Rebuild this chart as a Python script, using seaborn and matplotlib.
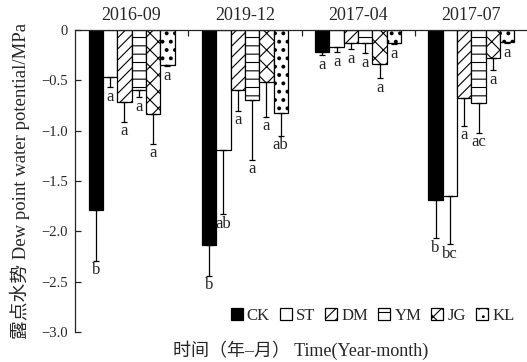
import numpy as np
import pandas as pd
import matplotlib
matplotlib.use("Agg")
import matplotlib.pyplot as plt
from matplotlib.patches import Patch
import seaborn as sns

# Sampling dates and treatments
groups = ["2016-09", "2019-12", "2017-04", "2017-07"]
treatments = ["CK", "ST", "DM", "YM", "JG", "KL"]

# Mean dew point water potential (MPa), one list per treatment, ordered by date
CK = [-1.79, -2.14, -0.22, -1.69]
ST = [-0.47, -1.19, -0.17, -1.65]
DM = [-0.72, -0.60, -0.13, -0.68]
YM = [-0.60, -0.70, -0.13, -0.73]
JG = [-0.83, -0.52, -0.34, -0.28]
KL = [-0.35, -0.82, -0.13, -0.12]

# Standard deviations
CK_sd = [0.50, 0.30, 0.03, 0.38]
ST_sd = [0.10, 0.64, 0.05, 0.48]
DM_sd = [0.19, 0.20, 0.06, 0.27]
YM_sd = [0.07, 0.59, 0.10, 0.29]
JG_sd = [0.30, 0.34, 0.14, 0.12]
KL_sd = [0.01, 0.23, 0.01, 0.01]

# Significance letters
CK_sig = ["b", "b", "a", "b"]
ST_sig = ["a", "ab", "a", "bc"]
DM_sig = ["a", "a", "a", "a"]
YM_sig = ["a", "a", "a", "ac"]
JG_sig = ["a", "a", "a", "a"]
KL_sig = ["a", "ab", "a", "a"]

y_ticks = [0, -0.5, -1.0, -1.5, -2.0, -2.5, -3.0]
y_tick_labels = ["0", "\u22120.5", "\u22121.0", "\u22121.5", "\u22122.0", "\u22122.5", "\u22123.0"]

means = [CK, ST, DM, YM, JG, KL]
sds = [CK_sd, ST_sd, DM_sd, YM_sd, JG_sd, KL_sd]
sigs = [CK_sig, ST_sig, DM_sig, YM_sig, JG_sig, KL_sig]

df = pd.DataFrame(
    [(g, t, means[i][j]) for i, t in enumerate(treatments) for j, g in enumerate(groups)],
    columns=["date", "treatment", "value"],
)

sns.set_style("ticks")
plt.rcParams["font.family"] = ["Liberation Serif", "Noto Sans CJK SC"]
plt.rcParams["axes.unicode_minus"] = True
plt.rcParams["hatch.linewidth"] = 0.8
plt.rcParams["hatch.color"] = "black"

fills = ["black", "white", "white", "white", "white", "white"]
hatches = ["", "", "///", "--", "xx", ".."]
hatch_lw = [0.8, 0.8, 0.8, 0.8, 0.8, 1.6]


def apply_hatch_lw(patch, lw):
    if hasattr(patch, "set_hatch_linewidth"):
        patch.set_hatch_linewidth(lw)


fig = plt.figure(figsize=(5.27, 3.62), dpi=100)
ax = fig.add_axes([75 / 527, 1 - 332 / 362, 453 / 527, 302 / 362])

sns.barplot(
    data=df, x="date", y="value", hue="treatment",
    order=groups, hue_order=treatments, palette=fills,
    width=0.76, errorbar=None, edgecolor="black", linewidth=0.9,
    legend=False, ax=ax, saturation=1,
)

bar_containers = list(ax.containers)
for i, cont in enumerate(bar_containers):
    xs = []
    for bar in cont.patches:
        bar.set_hatch(hatches[i])
        apply_hatch_lw(bar, hatch_lw[i])
        bar.set_edgecolor("black")
        xs.append(bar.get_x() + bar.get_width() / 2)
    xs = np.array(xs)
    m = np.array(means[i])
    s = np.array(sds[i])
    ax.errorbar(xs, m, yerr=[s, np.zeros_like(s)], fmt="none",
                ecolor="black", elinewidth=0.9, capsize=2.2, capthick=0.9)
    for x, v, e, lab in zip(xs, m, s, sigs[i]):
        ax.text(x, v - e - 0.015, lab, ha="center", va="top", fontsize=12,
                family="Liberation Serif")

ax.set_xlim(-0.5, 3.5)
ax.set_ylim(-3.0, 0)
ax.set_yticks(y_ticks)
ax.set_yticklabels(y_tick_labels, fontsize=10.5)
ax.tick_params(axis="y", direction="in", length=4, width=0.9, pad=5)

ax.xaxis.tick_top()
ax.set_xticks(range(len(groups)))
ax.set_xticklabels(groups, fontsize=13)
ax.tick_params(axis="x", which="major", length=0, pad=4)
ax.set_xticks([0.5, 1.5, 2.5], minor=True)
ax.tick_params(axis="x", which="minor", direction="in", length=4, width=0.9, top=True, bottom=False)

for side in ["right", "bottom"]:
    ax.spines[side].set_visible(False)
for side in ["left", "top"]:
    ax.spines[side].set_linewidth(0.9)
ax.set_xlabel("")
ax.set_ylabel("露点水势 Dew point water potential/MPa", fontsize=13.5, labelpad=8)

fig.text(301 / 527, 1 - 350 / 362, "时间（年–月） Time(Year-month)",
         ha="center", va="center", fontsize=13)

handles = []
for i in range(len(treatments)):
    h = Patch(facecolor=fills[i], edgecolor="black", hatch=hatches[i], linewidth=0.9)
    apply_hatch_lw(h, hatch_lw[i])
    handles.append(h)
ax.legend(handles, treatments, ncol=6, loc="center right",
          bbox_to_anchor=(0.97, 0.054), frameon=False, fontsize=12,
          handlelength=0.72, handleheight=0.72, handletextpad=0.25,
          columnspacing=0.6, borderpad=0, borderaxespad=0)

fig.savefig("out.png", dpi=100)
